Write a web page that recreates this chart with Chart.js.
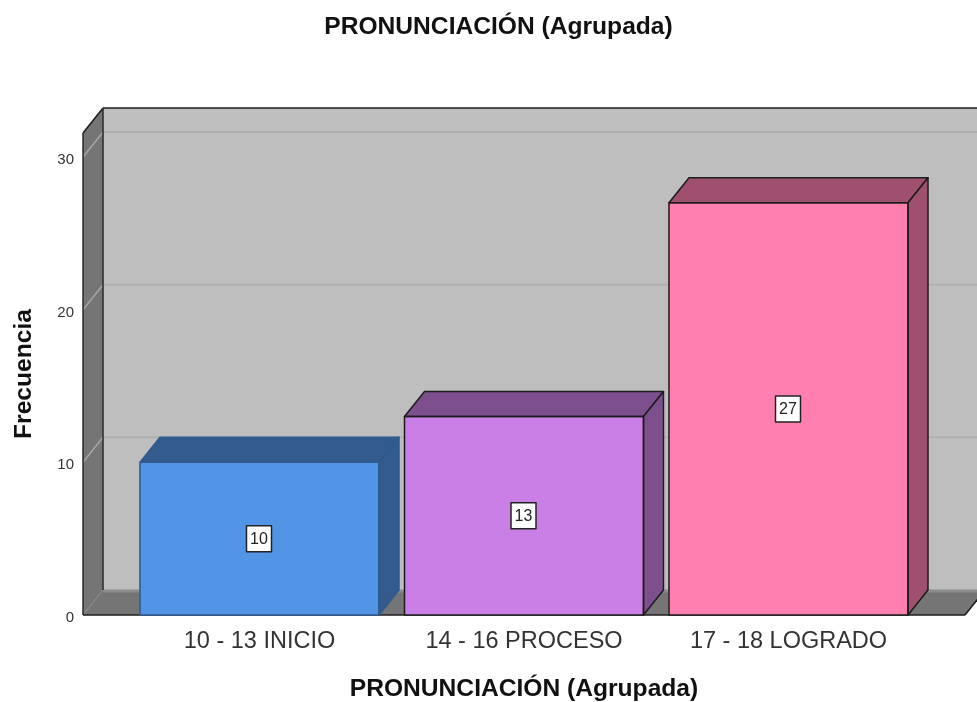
<!DOCTYPE html>
<html><head><meta charset="utf-8">
<script src="https://cdn.jsdelivr.net/npm/chart.js@4"></script>
<style>html,body{margin:0;padding:0;background:#fff}#w{width:977px;height:702px;position:relative}</style>
</head><body><div id="w"><canvas id="c" width="977" height="702"></canvas></div>
<script>
const categories = ["10 - 13 INICIO", "14 - 16 PROCESO", "17 - 18 LOGRADO"];
const frequencies = [10, 13, 27];
const yTicks = [0, 10, 20, 30];
const titleText = "PRONUNCIACIÓN (Agrupada)";
const yTitle = "Frecuencia";
const frontColors = ["#5294E6", "#C97FE6", "#FF80B0"];
const sideColors = ["#335B8E", "#7D4F8E", "#9E506E"];
const edgeColors = ["#2F5A90", "#1c1c1c", "#1c1c1c"];
const DX = 20, DY = -25;
const FONT = '"Liberation Sans", Arial, sans-serif';

function poly(ctx, pts, fill, stroke, lw) {
  ctx.beginPath();
  pts.forEach((p, i) => i ? ctx.lineTo(p[0], p[1]) : ctx.moveTo(p[0], p[1]));
  ctx.closePath();
  if (fill) { ctx.fillStyle = fill; ctx.fill(); }
  if (stroke) { ctx.strokeStyle = stroke; ctx.lineWidth = lw || 1.5; ctx.lineJoin = 'round'; ctx.stroke(); }
}
function line(ctx, a, b, c, lw) {
  ctx.beginPath(); ctx.moveTo(a[0], a[1]); ctx.lineTo(b[0], b[1]);
  ctx.strokeStyle = c; ctx.lineWidth = lw; ctx.stroke();
}
const box3d = {
  id: 'box3d',
  beforeDatasetsDraw(chart) {
    const { ctx, chartArea: a, scales: { y } } = chart;
    const L = a.left, R = a.right, T = a.top, B = a.bottom;
    ctx.save();
    poly(ctx, [[L + DX, T + DY], [R + DX, T + DY], [R + DX, B + DY], [L + DX, B + DY]], '#BEBEBE');
    poly(ctx, [[L, T], [L + DX, T + DY], [L + DX, B + DY], [L, B]], '#757575');
    poly(ctx, [[L, B], [L + DX, B + DY], [R + DX, B + DY], [R, B]], '#757575');
    line(ctx, [L + DX, B + DY + 1], [R + DX, B + DY + 1], '#8C8C8C', 3);
    yTicks.slice(1).forEach(v => {
      const py = y.getPixelForValue(v);
      line(ctx, [L + DX, py + DY], [R + DX, py + DY], '#B0B0B0', 2);
      line(ctx, [L, py], [L + DX, py + DY], '#A6A6A6', 1.5);
    });
    line(ctx, [L + DX, T + DY], [R + DX, T + DY], '#1c1c1c', 1.5);
    line(ctx, [L, T], [L + DX, T + DY], '#1c1c1c', 1.5);
    line(ctx, [L + DX, T + DY], [L + DX, B + DY], '#2a2a2a', 1.5);
    line(ctx, [L, T], [L, B], '#2a2a2a', 1.5);
    line(ctx, [L, B], [R, B], '#1c1c1c', 1.5);
    line(ctx, [R, B], [R + DX, B + DY], '#1c1c1c', 1.5);
    ctx.restore();
  },
  afterDatasetsDraw(chart) {
    const { ctx } = chart;
    const meta = chart.getDatasetMeta(0);
    ctx.save();
    meta.data.forEach((el, i) => {
      const l = el.x - el.width / 2, r = el.x + el.width / 2, t = el.y, b = el.base;
      const e = edgeColors[i];
      poly(ctx, [[l, t], [l + DX, t + DY], [r + DX, t + DY], [r, t]], sideColors[i], e, 1.5);
      poly(ctx, [[r, t], [r + DX, t + DY], [r + DX, b + DY], [r, b]], sideColors[i], e, 1.5);
      poly(ctx, [[l, t], [r, t], [r, b], [l, b]], null, e, 1.5);
      const cx = el.x - 0.5, cy = (t + b) / 2;
      ctx.fillStyle = '#fff'; ctx.strokeStyle = '#222'; ctx.lineWidth = 1.5;
      ctx.fillRect(cx - 12.5, cy - 13, 25, 26); ctx.strokeRect(cx - 12.5, cy - 13, 25, 26);
      ctx.fillStyle = '#222'; ctx.font = '16px ' + FONT;
      ctx.textAlign = 'center'; ctx.textBaseline = 'middle';
      ctx.fillText(String(frequencies[i]), cx, cy + 1);
    });
    ctx.restore();
  }
};

const pxPerCat = 264.5, firstCenter = 259.5, plotLeft = 83, plotRight = 965, pageLeft = 32;
const titleFont = { family: FONT, size: 24.6, weight: 'bold', lineHeight: 1.2 };

new Chart(document.getElementById('c'), {
  type: 'bar',
  data: {
    datasets: [{
      data: frequencies.map((v, i) => ({ x: i, y: v })),
      backgroundColor: frontColors,
      borderWidth: 0,
      barThickness: 239
    }]
  },
  plugins: [box3d],
  options: {
    responsive: false,
    animation: false,
    layout: { padding: { left: pageLeft, right: 977 - plotRight, top: 0, bottom: 0 } },
    plugins: {
      legend: { display: false },
      tooltip: { enabled: false },
      title: {
        display: true, text: titleText, color: '#111',
        font: titleFont,
        padding: { top: 12.25, bottom: 91.25 }
      }
    },
    scales: {
      x: {
        type: 'linear',
        offset: false,
        min: (plotLeft - firstCenter) / pxPerCat,
        max: (plotRight - firstCenter) / pxPerCat,
        afterBuildTicks(s) { s.ticks = categories.map((_, i) => ({ value: i })); },
        afterFit(s) { s.height = 87; },
        grid: { display: false, drawTicks: false },
        border: { display: false },
        ticks: {
          autoSkip: false, maxRotation: 0, padding: 12, color: '#333',
          font: { family: FONT, size: 23.5 },
          callback: v => categories[v]
        },
        title: {
          display: true, text: titleText, color: '#111',
          font: titleFont,
          padding: { top: 0, bottom: -2 }
        }
      },
      y: {
        min: 0, max: 31.57,
        afterBuildTicks(s) { s.ticks = yTicks.map(v => ({ value: v })); },
        afterFit(s) { s.width = plotLeft - pageLeft; },
        grid: { display: false, drawTicks: false },
        border: { display: false },
        ticks: {
          padding: 9, color: '#333',
          font: { family: FONT, size: 15, lineHeight: '6px' },
          callback: v => ["", String(v)]
        },
        title: {
          display: true, text: yTitle, color: '#111',
          font: titleFont,
          padding: { top: 9 - pageLeft, bottom: 0 }
        }
      }
    }
  }
});
</script></body></html>
